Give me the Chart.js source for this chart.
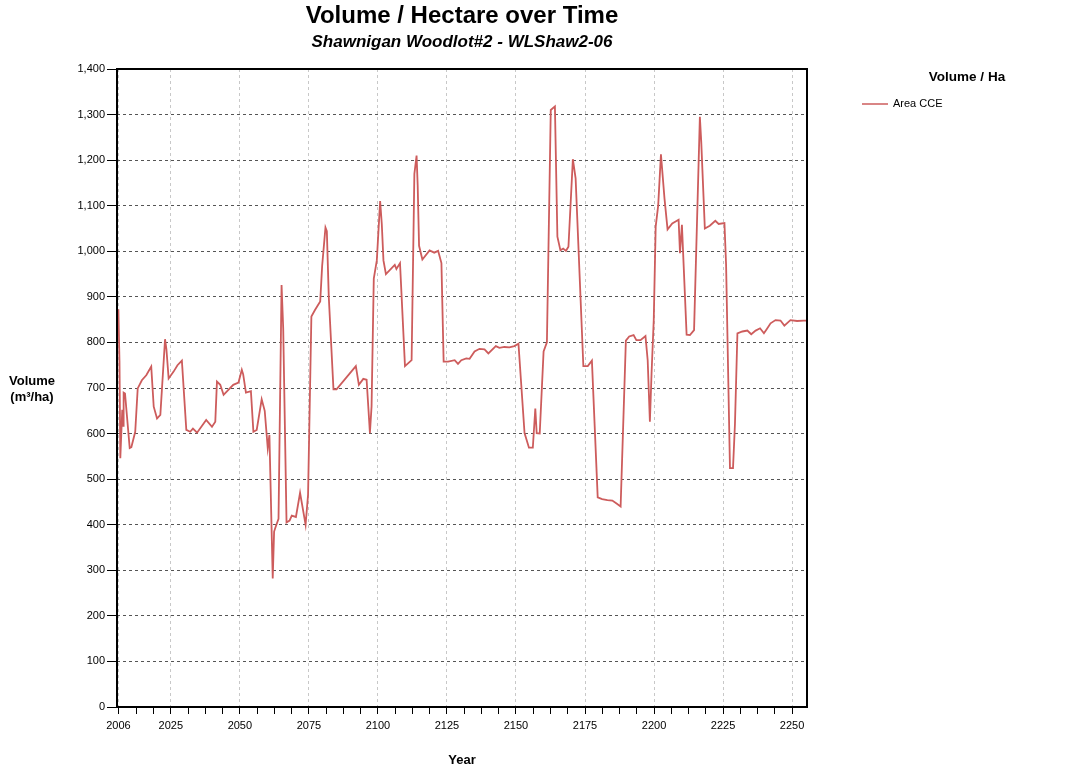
<!DOCTYPE html>
<html>
<head>
<meta charset="utf-8">
<title>Volume / Hectare over Time</title>
<script src="https://cdn.jsdelivr.net/npm/chart.js@4.4.1/dist/chart.umd.min.js"></script>
<style>
  html, body { margin: 0; padding: 0; background: #fff; }
  #wrap { width: 1073px; height: 770px; }
</style>
</head>
<body>
<div id="wrap"><canvas id="volumeChart" width="1073" height="770"></canvas></div>
<script>
// values
const years = [
  2006.0, 2006.4, 2006.7, 2007.4, 2007.7, 2007.9, 2008.4, 2010.1, 2010.7, 2012.1,
  2013.0, 2014.5, 2016.1, 2017.9, 2018.8, 2020.0, 2021.2, 2022.9, 2023.4, 2024.2,
  2026.0, 2027.4, 2029.0, 2030.6, 2032.0, 2033.0, 2034.5, 2037.8, 2039.9, 2041.1,
  2041.7, 2042.9, 2044.1, 2047.6, 2049.5, 2050.7, 2051.2, 2052.2, 2054.0, 2054.9,
  2056.1, 2057.9, 2059.0, 2060.1, 2060.7, 2061.9, 2062.4, 2063.0, 2064.0, 2065.1,
  2065.7, 2066.9, 2068.0, 2068.8, 2070.3, 2071.8, 2073.8, 2074.7, 2075.9, 2077.2,
  2079.1, 2079.8, 2081.0, 2081.5, 2082.2, 2083.9, 2085.0, 2092.0, 2093.1, 2094.7,
  2095.9, 2096.5, 2097.1, 2097.7, 2098.5, 2099.6, 2100.8, 2101.4, 2102.0, 2102.9,
  2106.1, 2106.7, 2108.0, 2109.8, 2112.2, 2113.2, 2114.0, 2114.4, 2114.9, 2116.1,
  2118.7, 2120.4, 2121.8, 2123.0, 2123.8, 2125.4, 2127.8, 2129.0, 2130.2, 2132.0,
  2133.2, 2135.0, 2136.8, 2138.6, 2140.0, 2142.7, 2144.0, 2145.8, 2147.6, 2149.4,
  2150.9, 2153.1, 2154.7, 2156.1, 2157.0, 2157.5, 2158.6, 2160.0, 2161.2, 2162.6,
  2164.1, 2165.0, 2166.1, 2167.1, 2168.1, 2169.0, 2170.6, 2171.6, 2174.4, 2176.0,
  2177.5, 2179.6, 2181.2, 2183.1, 2184.9, 2186.3, 2187.9, 2189.8, 2191.0, 2192.6,
  2193.6, 2195.1, 2196.9, 2197.7, 2198.5, 2199.1, 2199.9, 2200.6, 2201.5, 2202.5,
  2203.8, 2204.9, 2206.6, 2208.9, 2209.4, 2210.1, 2211.8, 2213.0, 2214.5, 2216.6,
  2217.1, 2218.4, 2220.2, 2222.2, 2223.4, 2225.5, 2226.1, 2227.5, 2228.6, 2229.3,
  2230.2, 2232.0, 2233.8, 2235.2, 2236.8, 2238.4, 2239.8, 2240.8, 2242.2, 2244.0,
  2245.8, 2247.2, 2249.4, 2251.8, 2254.2, 2255.4
];
const volumes = [
  873, 758, 546, 652, 617, 690, 688, 568, 570, 604,
  699, 717, 728, 747, 659, 633, 641, 807, 785, 721,
  736, 750, 760, 608, 604, 611, 602, 630, 615, 626,
  714, 707, 685, 707, 712, 740, 730, 690, 693, 604,
  608, 675, 650, 568, 597, 282, 385, 396, 413, 926,
  830, 405, 409, 420, 417, 470, 400, 466, 857, 871,
  890, 968, 1052, 1044, 900, 697, 697, 748, 707, 720,
  718, 660, 601, 660, 940, 980, 1110, 1060, 980, 950,
  970, 961, 974, 748, 761, 1170, 1210, 1145, 1012, 982,
  1002, 997, 1001, 974, 758, 758, 761, 753, 761, 765,
  764, 780, 786, 785, 776, 792, 788, 790, 789, 792,
  797, 601, 569, 569, 655, 601, 600, 780, 800, 1310,
  1318, 1032, 1002, 1006, 1001, 1010, 1202, 1160, 748, 748,
  760, 460, 456, 454, 453, 447, 440, 804, 813, 816,
  805, 805, 814, 761, 626, 732, 850, 1054, 1100, 1213,
  1115, 1048, 1061, 1069, 996, 1058, 817, 816, 827, 1295,
  1240, 1050, 1056, 1067, 1060, 1062, 970, 524, 524, 620,
  820, 824, 826, 818, 826, 831, 820, 829, 842, 849,
  848, 837, 849, 847, 848, 848
];
const xLabelTicks = [2006, 2025, 2050, 2075, 2100, 2125, 2150, 2175, 2200, 2225, 2250];
const xMinorStep = 6.25;
const chartTitle = 'Volume / Hectare over Time';
const chartSubtitle = 'Shawnigan Woodlot#2 - WLShaw2-06';
const seriesName = 'Area CCE';

const FONT = '"Liberation Sans", Arial, sans-serif';
const lineColor = '#cd5c5c';

const xTicks = [2006];
for (let v = 2012.5; v <= 2250; v += xMinorStep) xTicks.push(v);

const isLabelTick = v => xLabelTicks.indexOf(v) !== -1;

// frame, titles and legend box
const chartText = {
    id: 'chartText',
    afterDraw(chart) {
        const { ctx, chartArea: a } = chart;
        const cx = (a.left + a.right) / 2;
        ctx.save();
        ctx.strokeStyle = '#000';
        ctx.lineWidth = 2;
        ctx.strokeRect(a.left, a.top, a.right - a.left, a.bottom - a.top);

        ctx.fillStyle = '#000';
        ctx.textAlign = 'center';
        ctx.textBaseline = 'middle';
        ctx.font = 'bold 24px ' + FONT;
        ctx.fillText(chartTitle, cx, 16);
        ctx.font = 'italic bold 17px ' + FONT;
        ctx.fillText(chartSubtitle, cx, 42);

        ctx.font = 'bold 13px ' + FONT;
        ctx.fillText('Year', cx, 760);
        ctx.fillText('Volume', 32, 381);
        ctx.fillText('(m³/ha)', 32, 397);
        ctx.font = 'bold 13.5px ' + FONT;
        ctx.fillText('Volume / Ha', 967, 77);

        ctx.strokeStyle = lineColor;
        ctx.lineWidth = 1.5;
        ctx.beginPath();
        ctx.moveTo(862, 104);
        ctx.lineTo(888, 104);
        ctx.stroke();
        ctx.textAlign = 'left';
        ctx.font = '11px ' + FONT;
        ctx.fillText(seriesName, 893, 104);
        ctx.restore();
    }
};

new Chart(document.getElementById('volumeChart'), {
    type: 'line',
    data: {
        datasets: [{
            label: seriesName,
            data: years.map((yr, i) => ({ x: yr, y: volumes[i] })),
            borderColor: lineColor,
            borderWidth: 1.8,
            pointRadius: 0,
            tension: 0,
            fill: false
        }]
    },
    options: {
        responsive: false,
        animation: false,
        layout: { padding: { top: 69, right: 266, bottom: 0, left: 0 } },
        plugins: {
            legend: { display: false },
            tooltip: { enabled: false }
        },
        scales: {
            x: {
                type: 'linear',
                min: 2005.5,
                max: 2255.4,
                afterBuildTicks: scale => {
                    scale.ticks = xTicks.map(v => ({ value: v }));
                },
                afterFit: scale => { scale.height = 63; },
                ticks: {
                    autoSkip: false,
                    maxRotation: 0,
                    padding: 5,
                    color: '#000',
                    font: { family: FONT, size: 11 },
                    callback: v => isLabelTick(v) ? String(v) : ''
                },
                grid: {
                    color: c => (c.tick && isLabelTick(c.tick.value)) ? '#c8c8c8' : 'transparent',
                    lineWidth: 1,
                    tickLength: 7,
                    tickColor: '#000',
                    tickWidth: 1
                },
                border: { display: false, dash: [3, 3] }
            },
            y: {
                type: 'linear',
                min: 0,
                max: 1400,
                afterFit: scale => { scale.width = 117; },
                ticks: {
                    stepSize: 100,
                    padding: 2,
                    color: '#000',
                    font: { family: FONT, size: 11 },
                    callback: v => v.toLocaleString('en-US')
                },
                grid: {
                    color: c => (c.tick && (c.tick.value === 0 || c.tick.value === 1400)) ? 'transparent' : '#555',
                    lineWidth: 1,
                    tickLength: 10,
                    tickColor: '#000',
                    tickWidth: 1
                },
                border: { display: false, dash: [3, 3] }
            }
        }
    },
    plugins: [chartText]
});
</script>
</body>
</html>
